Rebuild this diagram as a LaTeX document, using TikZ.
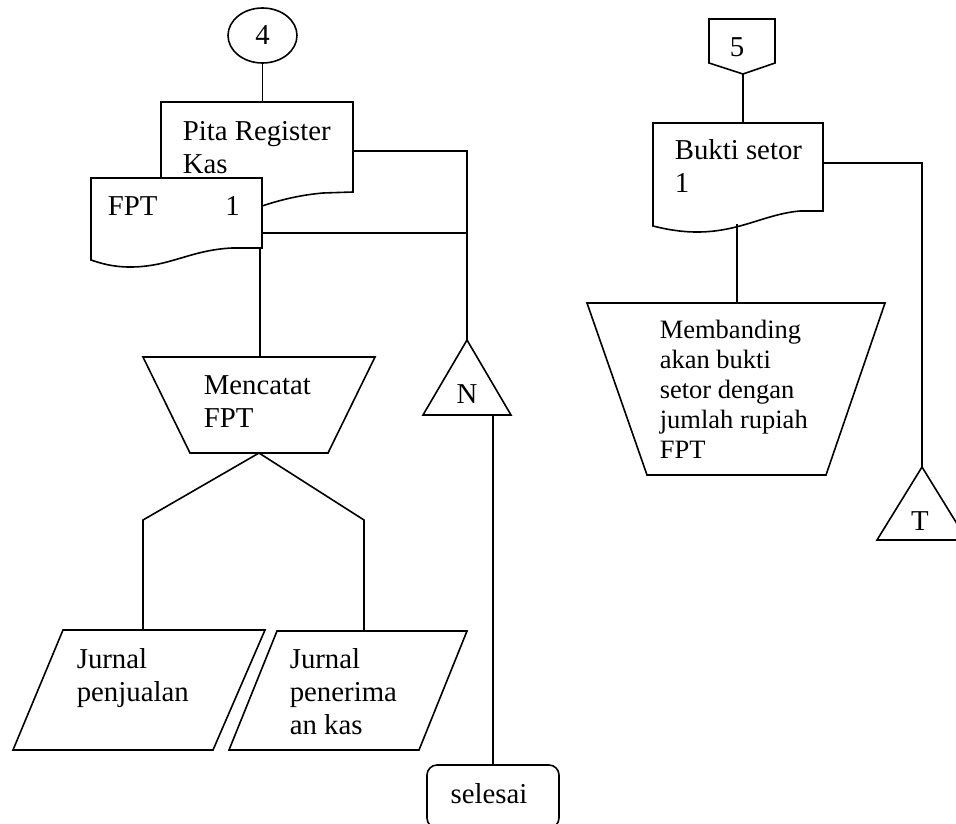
\documentclass[tikz,border=0pt]{standalone}
\usepackage{fontspec}
\setmainfont{Liberation Serif}
\usetikzlibrary{shapes.geometric}
\newcommand{\myup}{\rule{0pt}{25pt}}
\begin{document}
\begin{tikzpicture}[x=1pt,y=-1pt, line width=1.6pt, line join=miter,
  shapebox/.style={draw=black, fill=white},
  conn/.style={draw=black},
  bigfont/.style={font=\fontsize{28.8}{33}\selectfont},
  txt/.style={anchor=north west, inner sep=0pt, align=left, bigfont},
  stxt/.style={anchor=north west, inner sep=0pt, align=left, font=\fontsize{26.5}{30}\selectfont},
  lbl/.style={anchor=base, inner sep=0pt, bigfont}]
\useasboundingbox (0,0) rectangle (956,823);

% ---------- left column ----------
\node[draw, ellipse, minimum width=69pt, minimum height=55pt, inner sep=0pt, bigfont] (c4) at (262.5,35.5) {4};

% Pita Register Kas document (behind)
\draw[shapebox] (161,206) -- (161,102) -- (353,102) -- (353,192) -- (323,193)
  .. controls (300,195) and (280,200) .. (262,206) -- cycle;
\node[txt] (tpita) at (182,115) {\myup Pita Register\\Kas};
\coordinate (pitatop) at (262.5,102);
\coordinate (pitaR) at (353,151);

% FPT document (front)
\draw[shapebox] (91,178) -- (262,178) -- (262,248) -- (232,248)
  .. controls (190,250) and (170,267) .. (130,267)
  .. controls (112,267) and (100,263) .. (91,260) -- cycle;
\node[txt] (tfpt) at (107,190) {\myup FPT\hspace{68pt}1};
\coordinate (fptR) at (262,233);
\coordinate (fptB) at (260,248);

\draw[conn] (c4.south) -- (pitatop);

% junction to N
\coordinate (jt) at (467,151);
\coordinate (jn) at (467,233);
\coordinate (napex) at (467,340);
\draw[conn] (pitaR) -- (jt) -- (jn) -- (napex);
\draw[conn] (fptR) -- (jn);

% N off-page connector
\draw[shapebox] (467,340) -- (511,415) -- (423,415) -- cycle;
\node[lbl] (tn) at (467,403) {N};
\coordinate (nbase) at (493,415);

% Mencatat FPT process
\draw[shapebox] (143,357) -- (375,357) -- (328,453) -- (190,453) -- cycle;
\node[txt] (tmenc) at (203,369) {\myup Mencatat\\FPT};
\coordinate (mtop) at (260,357);
\coordinate (mbot) at (259,453);
\draw[conn] (fptB) -- (mtop);

% split
\coordinate (sl) at (143,520);
\coordinate (sr) at (364,520);
\coordinate (p1top) at (143,630);
\coordinate (p2top) at (364,631);
\draw[conn] (mbot) -- (sl) -- (p1top);
\draw[conn] (mbot) -- (sr) -- (p2top);

% journals
\draw[shapebox] (63,630) -- (265,630) -- (213,750) -- (13,750) -- cycle;
\node[txt] (tj1) at (76,643) {\myup Jurnal\\penjualan};
\draw[shapebox] (277,631) -- (467,631) -- (419,750) -- (229,750) -- cycle;
\node[txt] (tj2) at (289,643) {\myup Jurnal\\penerima\\an kas};

% selesai
\coordinate (seltop) at (493,765);
\draw[conn] (nbase) -- (seltop);
\draw[shapebox, rounded corners=10pt] (427,765) rectangle (559,828);
\node[lbl] (tsel) at (489,803) {selesai};

% ---------- right column ----------
\draw[shapebox] (709,19) -- (775,19) -- (775,63) -- (743,74) -- (709,63) -- cycle;
\node[lbl] (t5) at (737,56) {5};
\coordinate (p5) at (743,74);
\coordinate (bukTop) at (743,123);
\draw[conn] (p5) -- (bukTop);

% Bukti setor document
\draw[shapebox] (653,123) -- (823,123) -- (823,211) -- (800,211)
  .. controls (765,214) and (740,232) .. (697,232)
  .. controls (680,232) and (665,229) .. (653,226) -- cycle;
\node[txt] (tbuk) at (674,134) {\myup Bukti setor\\1};
\coordinate (bukB) at (737,224);
\coordinate (bukR) at (823,163);

% Membanding process
\coordinate (memtop) at (737,303);
\draw[conn] (bukB) -- (memtop);
\draw[shapebox] (587,303) -- (885,303) -- (826,475) -- (647,475) -- cycle;
\node[stxt] (tmem) at (659,313) {\myup Membanding\\akan bukti\\setor dengan\\jumlah rupiah\\FPT};

% to T
\coordinate (tr) at (922,163);
\coordinate (tapex) at (922,467);
\draw[conn] (bukR) -- (tr) -- (tapex);
\draw[shapebox] (922,467) -- (967,540) -- (877,540) -- cycle;
\node[lbl] (tt) at (920,530) {T};
\end{tikzpicture}
\end{document}
